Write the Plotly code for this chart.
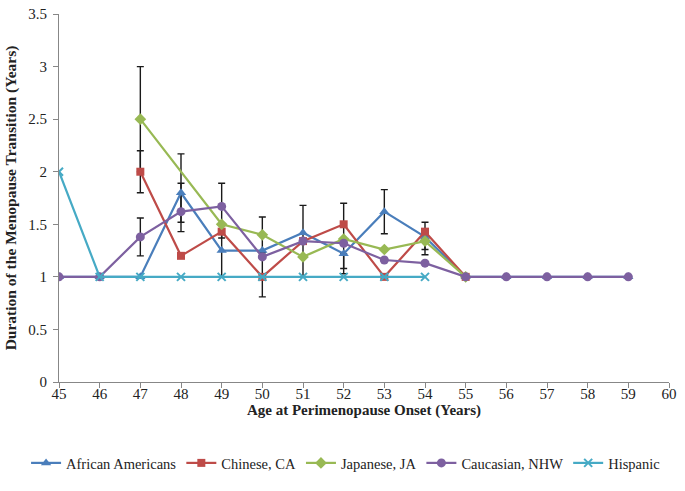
import plotly.graph_objects as go

# ---- data ----
age_aa = [45, 46, 47, 48, 49, 50, 51, 52, 53, 54, 55, 56, 57, 58, 59]
dur_aa = [1, 1, 1, 1.8, 1.25, 1.25, 1.42, 1.22, 1.62, 1.38, 1, 1, 1, 1, 1]

age_ca = [47, 48, 49, 50, 51, 52, 53, 54, 55]
dur_ca = [2.0, 1.2, 1.43, 1.0, 1.34, 1.5, 1.0, 1.43, 1.0]

age_ja = [47, 49, 50, 51, 52, 53, 54, 55]
dur_ja = [2.5, 1.5, 1.4, 1.19, 1.36, 1.26, 1.34, 1.0]

age_nhw = [45, 46, 47, 48, 49, 50, 51, 52, 53, 54, 55, 56, 57, 58, 59]
dur_nhw = [1, 1, 1.38, 1.62, 1.67, 1.19, 1.34, 1.32, 1.16, 1.13, 1, 1, 1, 1, 1]

age_his = [45, 46, 47, 48, 49, 50, 51, 52, 53, 54]
dur_his = [2, 1, 1, 1, 1, 1, 1, 1, 1, 1]

# error bars (x, plus, minus) per series
err_aa_x = [48, 49, 51, 52, 53, 54]
err_aa_plus = [0.37, 0.25, 0.26, 0.0, 0.21, 0.0]
err_aa_minus = [0.37, 0.25, 0.42, 0.19, 0.21, 0.12]

err_ca_x = [47, 50, 52, 54]
err_ca_plus = [0.2, 0.19, 0.2, 0.09]
err_ca_minus = [0.2, 0.19, 0.2, 0.09]

err_ja_x = [47, 50, 54]
err_ja_plus = [0.5, 0.17, 0.0]
err_ja_minus = [0.5, 0.17, 0.13]

err_nhw_x = [47, 48, 49, 52]
err_nhw_plus = [0.18, 0.27, 0.22, 0.0]
err_nhw_minus = [0.18, 0.10, 0.30, 0.24]

series = [
    ("African Americans", age_aa, dur_aa, "#4A7EBB", "triangle-up", 9,
     err_aa_x, err_aa_plus, err_aa_minus),
    ("Chinese, CA", age_ca, dur_ca, "#BE4B48", "square", 8,
     err_ca_x, err_ca_plus, err_ca_minus),
    ("Japanese, JA", age_ja, dur_ja, "#98B954", "diamond", 9,
     err_ja_x, err_ja_plus, err_ja_minus),
    ("Caucasian, NHW", age_nhw, dur_nhw, "#7D60A0", "circle", 9,
     err_nhw_x, err_nhw_plus, err_nhw_minus),
    ("Hispanic", age_his, dur_his, "#46AAC5", "x-thin", 8,
     [], [], []),
]

fig = go.Figure()

# error bars first (underneath)
for name, xs, ys, color, sym, size, ex, ep, em in series:
    if not ex:
        continue
    lookup = dict(zip(xs, ys))
    fig.add_trace(go.Scatter(
        x=ex, y=[lookup[v] for v in ex], mode="markers",
        marker=dict(size=0.1, opacity=0),
        error_y=dict(type="data", symmetric=False, array=ep, arrayminus=em,
                     color="#1a1a1a", thickness=1.4, width=3.5),
        showlegend=False, hoverinfo="skip"))

for name, xs, ys, color, sym, size, ex, ep, em in series:
    if sym == "x-thin":
        mk = dict(symbol=sym, size=size, color=color, line=dict(color=color, width=2))
    else:
        mk = dict(symbol=sym, size=size, color=color, line=dict(width=0))
    fig.add_trace(go.Scatter(
        x=xs, y=ys, mode="lines+markers", name=name,
        line=dict(color=color, width=2.2), marker=mk))

font_fam = "Liberation Serif"
fig.update_layout(
    width=685, height=491,
    margin=dict(l=59, r=16, t=6, b=109),
    paper_bgcolor="white", plot_bgcolor="white",
    font=dict(family=font_fam, size=15, color="#222"),
    showlegend=True,
    legend=dict(orientation="h", x=-0.054, xanchor="left", y=-0.22, yanchor="middle",
                font=dict(size=14.5, family=font_fam, color="#222"),
                itemwidth=30, tracegroupgap=0),
    xaxis=dict(range=[45, 60.0001], dtick=1, tick0=45, showgrid=False, zeroline=False,
               showline=True, linecolor="#878787", linewidth=1,
               ticks="outside", ticklen=5, tickcolor="#878787",
               tickfont=dict(size=15), ticklabeloverflow="allow",
               ticklabelstandoff=-7,
               title=dict(text="<b>Age at Perimenopause Onset (Years)</b>",
                          font=dict(size=15), standoff=0)),
    yaxis=dict(range=[0, 3.5001], dtick=0.5, tick0=0, showgrid=False, zeroline=False,
               showline=True, linecolor="#878787", linewidth=1,
               ticks="outside", ticklen=5, tickcolor="#878787",
               tickfont=dict(size=15), ticklabeloverflow="allow",
               ticklabelstandoff=3,
               title=dict(text="<b>Duration of the Menopause Transition (Years)</b>",
                          font=dict(size=15.5), standoff=7)),
)

fig.write_html("out.html", config={"displayModeBar": False},
               post_script="document.body.style.margin='0';")
